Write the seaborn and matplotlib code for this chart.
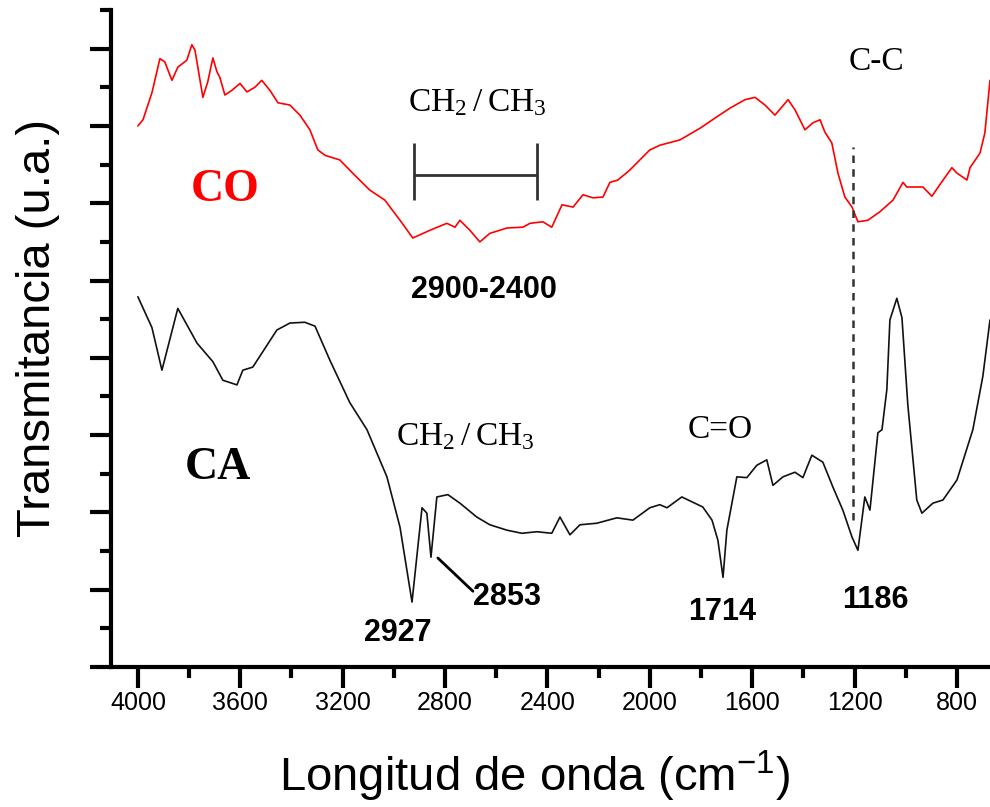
import numpy as np
import pandas as pd
import matplotlib
matplotlib.use("Agg")
import matplotlib.pyplot as plt
import seaborn as sns

# espectro CO (rojo), transmitancia en unidades arbitrarias
co_wn = [4000, 3980, 3945, 3914, 3895, 3867, 3844, 3809, 3789, 3777, 3746, 3727,
         3707, 3691, 3680, 3660, 3633, 3601, 3574, 3543, 3516, 3484, 3453, 3406,
         3367, 3328, 3297, 3269, 3211, 3152, 3094, 3035, 2976, 2926, 2859, 2793,
         2761, 2742, 2703, 2664, 2625, 2558, 2496, 2468, 2418, 2383, 2343, 2300,
         2261, 2222, 2183, 2156, 2125, 2078, 2000, 1961, 1882, 1804, 1746, 1687,
         1628, 1589, 1550, 1511, 1460, 1433, 1394, 1363, 1335, 1316, 1289, 1265,
         1238, 1210, 1187, 1148, 1101, 1050, 1011, 996, 933, 898, 867, 820, 800,
         761, 749, 710, 691, 671]
co_t = [7.00, 7.08, 7.43, 7.87, 7.83, 7.59, 7.76, 7.85, 8.05, 7.98, 7.37, 7.57,
        7.88, 7.70, 7.63, 7.40, 7.46, 7.55, 7.44, 7.50, 7.59, 7.46, 7.30, 7.27,
        7.14, 6.95, 6.69, 6.62, 6.56, 6.36, 6.17, 6.04, 5.78, 5.55, 5.65, 5.74,
        5.69, 5.78, 5.65, 5.50, 5.61, 5.68, 5.69, 5.74, 5.76, 5.69, 5.98, 5.95,
        6.11, 6.07, 6.08, 6.27, 6.30, 6.43, 6.69, 6.75, 6.82, 6.97, 7.10, 7.23,
        7.34, 7.37, 7.27, 7.14, 7.34, 7.21, 6.95, 7.04, 7.08, 6.92, 6.78, 6.39,
        6.08, 5.95, 5.76, 5.78, 5.89, 6.04, 6.27, 6.21, 6.21, 6.09, 6.24, 6.46, 6.39,
        6.30, 6.46, 6.65, 6.91, 7.59]

# espectro CA (negro)
ca_wn = [4000, 3945, 3906, 3844, 3769, 3707, 3668, 3613, 3590, 3551, 3457, 3406,
         3348, 3308, 3250, 3172, 3105, 3027, 2976, 2929, 2890, 2871, 2855, 2832,
         2789, 2742, 2676, 2625, 2558, 2500, 2441, 2383, 2351, 2312, 2273, 2207,
         2129, 2066, 2000, 1961, 1933, 1875, 1793, 1757, 1734, 1714, 1699, 1660,
         1621, 1582, 1543, 1519, 1480, 1433, 1402, 1367, 1324, 1285, 1246, 1210,
         1187, 1160, 1140, 1109, 1093, 1074, 1062, 1035, 1015, 992, 957, 937, 894,
         855, 800, 738, 699, 671]
ca_t = [4.79, 4.39, 3.84, 4.64, 4.19, 3.95, 3.71, 3.65, 3.84, 3.88, 4.36, 4.45,
        4.46, 4.41, 3.97, 3.42, 3.07, 2.46, 1.81, 0.84, 2.06, 1.99, 1.42, 2.20,
        2.23, 2.12, 1.94, 1.84, 1.77, 1.73, 1.75, 1.73, 1.94, 1.71, 1.84, 1.86,
        1.93, 1.90, 2.06, 2.10, 2.06, 2.20, 2.07, 1.90, 1.64, 1.16, 1.77, 2.46,
        2.45, 2.61, 2.68, 2.35, 2.46, 2.52, 2.45, 2.74, 2.65, 2.33, 2.03, 1.68,
        1.51, 2.20, 2.03, 3.03, 3.07, 3.59, 4.49, 4.77, 4.52, 3.39, 2.16, 1.99,
        2.12, 2.16, 2.42, 3.07, 3.76, 4.49]

x_ticks = [4000, 3600, 3200, 2800, 2400, 2000, 1600, 1200, 800]
bracket_range = [2920, 2440]
cc_line = 1205

df_co = pd.DataFrame({"wn": co_wn, "t": co_t})
df_ca = pd.DataFrame({"wn": ca_wn, "t": ca_t})

sns.set_style("ticks", {"axes.edgecolor": "black", "text.color": "black",
                        "axes.labelcolor": "black", "xtick.color": "black",
                        "ytick.color": "black"})
plt.rcParams["font.family"] = ["Liberation Sans", "DejaVu Sans"]
plt.rcParams["mathtext.fontset"] = "custom"
plt.rcParams["mathtext.rm"] = "Liberation Sans"

fig = plt.figure(figsize=(9.9, 8.07), dpi=100)
ax = fig.add_axes([111 / 990, 140 / 807, 879 / 990, 657 / 807])

sns.lineplot(data=df_co, x="wn", y="t", ax=ax, color="#ff0000", lw=1.2,
             estimator=None, sort=False)
sns.lineplot(data=df_ca, x="wn", y="t", ax=ax, color="#111111", lw=1.2,
             estimator=None, sort=False)

ax.set_xlim(4105, 671)
ax.set_ylim(0, 8.5)
ax.set_xticks(x_ticks)
ax.set_xticks(np.arange(800, 4001, 200), minor=True)
ax.set_yticks(np.arange(0, 9, 1))
ax.set_yticks(np.arange(0.5, 8.6, 1), minor=True)
ax.set_yticklabels([])
ax.tick_params(which="major", direction="out", length=15, width=3, labelsize=18,
               pad=2, colors="black")
ax.tick_params(which="minor", direction="out", length=8, width=3, colors="black")
for s in ["top", "right"]:
    ax.spines[s].set_visible(False)
for s in ["left", "bottom"]:
    ax.spines[s].set_linewidth(3)
    ax.spines[s].set_color("black")

ax.set_xlabel("Longitud de onda (cm$^{\\mathregular{-1}}$)", fontsize=34, color="black")
ax.xaxis.set_label_coords(0.482, -0.166)
ax.xaxis.label.set_va("center")
ax.set_ylabel("Transmitancia (u.a.)", fontsize=34, color="black")
ax.yaxis.set_label_coords(-0.083, 0.516)
ax.yaxis.label.set_va("center")

serif = "Liberation Serif"
ax.text(3660, 6.17, "CO", color="#ff0000", fontsize=33, fontweight="bold",
        family=serif, ha="center", va="center")
ax.text(3687, 2.57, "CA", color="black", fontsize=33, fontweight="bold",
        family=serif, ha="center", va="center")
ch = "$\\mathregular{CH_2\\,/\\,CH_3}$"
ax.text(2672, 7.30, ch, fontsize=24, family=serif, ha="center", va="center")
ax.text(2722, 2.98, ch, fontsize=24, family=serif, ha="center", va="center")
ax.text(1726, 3.07, "C=O", fontsize=24, family=serif, ha="center", va="center")
ax.text(1113, 7.83, "C-C", fontsize=24, family=serif, ha="center", va="center")

# rango CH2/CH3 en CO
ax.hlines(6.36, bracket_range[0], bracket_range[1], color="#333333", lw=2)
ax.vlines(bracket_range, 6.04, 6.78, color="#333333", lw=2)
ax.text(2648, 4.88, "2900-2400", fontsize=22, fontweight="bold", ha="center", va="center")

ax.vlines(cc_line, 1.90, 6.73, color="#333333", lw=1.8, linestyles=(0, (3, 2.5)))

bold = dict(fontsize=22, fontweight="bold", ha="center", va="center", color="black")
ax.text(2984, 0.44, "2927", **bold)
ax.annotate("", xy=(2828, 1.41), xytext=(2691, 0.98),
            arrowprops=dict(arrowstyle="-", color="black", lw=2,
                            shrinkA=0, shrinkB=0))
ax.text(2558, 0.91, "2853", **bold)
ax.text(1718, 0.71, "1714", **bold)
ax.text(1120, 0.87, "1186", **bold)

fig.savefig("out.png", dpi=100)
